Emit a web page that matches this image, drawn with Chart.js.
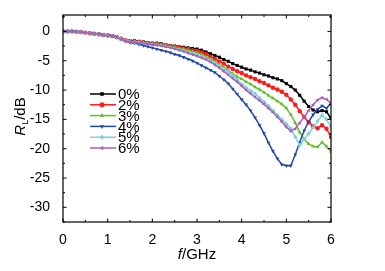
<!DOCTYPE html>
<html>
<head>
<meta charset="utf-8">
<script src="https://cdn.jsdelivr.net/npm/chart.js@4.4.0/dist/chart.umd.min.js"></script>
<style>
  html, body { margin: 0; padding: 0; background: #fff; }
  #wrap { width: 385px; height: 271px; position: relative; }
</style>
</head>
<body>
<div id="wrap"><canvas id="chart"></canvas></div>
<script>
// frequency points (GHz)
const freq = [0,0.1,0.2,0.3,0.4,0.5,0.6,0.7,0.8,0.9,1.0,1.1,1.2,1.3,1.4,1.5,1.6,1.7,1.8,1.9,2.0,
  2.1,2.2,2.3,2.4,2.5,2.6,2.7,2.8,2.9,3.0,3.1,3.2,3.3,3.4,3.5,3.6,3.7,3.8,3.9,4.0,
  4.1,4.2,4.3,4.4,4.5,4.6,4.7,4.8,4.9,5.0,5.1,5.2,5.3,5.4,5.5,5.6,5.7,5.8,5.9,6.0];

// reflection loss (dB) for each filler content
const rl0 = [0,0,0,-0.05,-0.1,-0.2,-0.3,-0.4,-0.45,-0.55,-0.65,-0.75,-0.9,-1.2,-1.5,-1.6,-1.6,-1.7,-1.8,-1.9,-2.0,
  -2.0,-2.1,-2.3,-2.4,-2.5,-2.6,-2.7,-2.8,-2.9,-3.0,-3.2,-3.5,-3.8,-4.1,-4.4,-4.8,-5.1,-5.5,-5.8,-6.1,
  -6.4,-6.6,-6.9,-7.1,-7.4,-7.6,-7.9,-8.1,-8.4,-8.9,-9.4,-10.0,-10.9,-11.9,-12.8,-13.4,-13.7,-13.5,-13.7,-14.8];
const rl2 = [0,0,0,-0.05,-0.1,-0.2,-0.3,-0.4,-0.5,-0.6,-0.7,-0.8,-0.95,-1.25,-1.55,-1.65,-1.7,-1.8,-1.9,-2.0,-2.1,
  -2.15,-2.25,-2.4,-2.5,-2.6,-2.7,-2.9,-3.0,-3.2,-3.35,-3.6,-3.9,-4.3,-4.7,-5.1,-5.5,-6.0,-6.4,-6.8,-7.1,
  -7.5,-7.8,-8.1,-8.5,-8.8,-9.2,-9.6,-9.9,-10.3,-10.8,-11.6,-12.5,-13.6,-14.6,-15.5,-16.2,-16.5,-16.0,-16.6,-18.0];
const rl3 = [0,0,0,-0.05,-0.1,-0.2,-0.3,-0.4,-0.5,-0.6,-0.7,-0.8,-0.95,-1.25,-1.55,-1.7,-1.75,-1.85,-1.95,-2.05,-2.15,
  -2.2,-2.3,-2.45,-2.55,-2.7,-2.9,-3.0,-3.2,-3.4,-3.6,-3.9,-4.3,-4.7,-5.1,-5.6,-6.1,-6.7,-7.2,-7.7,-8.1,
  -8.6,-9.0,-9.5,-9.9,-10.4,-10.9,-11.4,-11.9,-12.4,-13.1,-14.2,-15.6,-17.2,-18.4,-19.2,-19.6,-19.7,-18.9,-19.6,-20.5];
const rl4 = [0,0,0,-0.05,-0.1,-0.2,-0.3,-0.4,-0.5,-0.6,-0.75,-0.85,-1.05,-1.4,-1.7,-1.9,-2.0,-2.2,-2.4,-2.6,-2.8,
  -3.0,-3.2,-3.4,-3.6,-3.9,-4.1,-4.4,-4.7,-5.0,-5.4,-5.8,-6.2,-6.6,-7.0,-7.6,-8.2,-8.9,-9.8,-10.7,-11.6,
  -12.5,-13.5,-14.7,-16.0,-17.4,-19.0,-20.4,-21.7,-22.7,-22.9,-22.9,-21.0,-18.9,-16.9,-15.4,-14.2,-13.3,-12.7,-13.1,-12.2];
const rl5 = [0,0,0,-0.05,-0.1,-0.2,-0.3,-0.4,-0.5,-0.6,-0.7,-0.8,-0.95,-1.3,-1.6,-1.7,-1.8,-1.9,-2.0,-2.1,-2.2,
  -2.3,-2.4,-2.55,-2.7,-2.9,-3.1,-3.3,-3.6,-3.8,-4.0,-4.3,-4.6,-5.0,-5.4,-5.9,-6.4,-6.9,-7.5,-8.2,-9.0,
  -9.6,-10.1,-10.6,-11.3,-12.0,-12.7,-13.5,-14.3,-15.0,-15.8,-16.6,-18.0,-19.4,-18.4,-17.4,-16.4,-15.3,-14.3,-15.0,-16.3];
const rl6 = [0,0,0,-0.05,-0.1,-0.2,-0.3,-0.4,-0.5,-0.6,-0.7,-0.8,-0.95,-1.3,-1.6,-1.75,-1.85,-1.95,-2.05,-2.15,-2.25,
  -2.35,-2.45,-2.6,-2.75,-2.95,-3.2,-3.4,-3.7,-3.95,-4.2,-4.5,-4.8,-5.2,-5.7,-6.2,-6.8,-7.4,-8.0,-8.6,-9.3,
  -10.0,-10.6,-11.2,-11.8,-12.4,-13.1,-13.8,-14.6,-15.4,-16.3,-17.0,-16.6,-15.6,-14.6,-13.5,-12.5,-11.7,-11.3,-11.6,-12.2];

const seriesNames = ['0%', '2%', '3%', '4%', '5%', '6%'];
const xTicks = [0, 1, 2, 3, 4, 5, 6];
const yTicks = [-30, -25, -20, -15, -10, -5, 0];

const seriesData = [rl0, rl2, rl3, rl4, rl5, rl6];
const colors = ['#000000', '#ff1a1a', '#5fbf2a', '#2149a8', '#7fd0e0', '#a861b5'];
const shapes = ['rect', 'circle', 'triangle', 'triangle', 'rectRot', 'triangle'];
const rotations = [0, 0, 0, 180, 0, -90];

const FONT = "'Liberation Sans', Arial, sans-serif";

const datasets = seriesData.map(function(vals, i) {
    return {
        label: seriesNames[i],
        data: vals.map(function(v, j) { return { x: freq[j], y: v }; }),
        borderColor: colors[i],
        backgroundColor: colors[i],
        borderWidth: 1.5,
        pointStyle: shapes[i],
        pointRotation: rotations[i],
        pointRadius: 2.2,
        pointBorderWidth: 0,
        tension: 0,
        order: 5 - i
    };
});

// frame, inward ticks, legend and axis titles
const decorPlugin = {
    id: 'decor',
    afterDraw: function(chart) {
        const ctx = chart.ctx;
        const a = chart.chartArea;
        const xs = chart.scales.x, ys = chart.scales.y;
        ctx.save();
        ctx.strokeStyle = '#000';
        ctx.lineWidth = 1.2;
        ctx.strokeRect(a.left, a.top, a.right - a.left, a.bottom - a.top);

        ctx.lineWidth = 1;
        ctx.beginPath();
        for (let v = 0; v <= 6; v += 0.5) {
            const px = xs.getPixelForValue(v);
            const len = (v % 1 === 0) ? 3.5 : 2;
            ctx.moveTo(px, a.bottom); ctx.lineTo(px, a.bottom - len);
            ctx.moveTo(px, a.top); ctx.lineTo(px, a.top + len);
        }
        for (let v = -32.5; v <= 2.5; v += 2.5) {
            const py = ys.getPixelForValue(v);
            const len = (v % 5 === 0) ? 3.5 : 2;
            ctx.moveTo(a.left, py); ctx.lineTo(a.left + len, py);
            ctx.moveTo(a.right, py); ctx.lineTo(a.right - len, py);
        }
        ctx.stroke();

        // legend
        const lx = 90, ly = 94, step = 10.8;
        ctx.textBaseline = 'middle';
        ctx.font = '15px ' + FONT;
        datasets.forEach(function(ds, i) {
            const y = ly + i * step;
            ctx.strokeStyle = ds.borderColor;
            ctx.lineWidth = 1.5;
            ctx.beginPath();
            ctx.moveTo(lx, y); ctx.lineTo(lx + 26, y);
            ctx.stroke();
            ctx.fillStyle = ds.backgroundColor;
            Chart.helpers.drawPoint(ctx, { pointStyle: ds.pointStyle, rotation: ds.pointRotation, radius: 2.5, borderWidth: 0 }, lx + 12, y);
            ctx.fillStyle = '#000';
            ctx.textAlign = 'left';
            ctx.fillText(ds.label, lx + 28, y + 1);
        });

        // x title: f/GHz
        ctx.fillStyle = '#000';
        ctx.textBaseline = 'middle';
        ctx.textAlign = 'left';
        const t1 = 'f', t2 = '/GHz';
        ctx.font = 'italic 15px ' + FONT;
        const w1 = ctx.measureText(t1).width;
        ctx.font = '15px ' + FONT;
        const w2 = ctx.measureText(t2).width;
        let x0 = (a.left + a.right) / 2 - (w1 + w2) / 2;
        ctx.font = 'italic 15px ' + FONT;
        ctx.fillText(t1, x0, 255);
        ctx.font = '15px ' + FONT;
        ctx.fillText(t2, x0 + w1, 255);

        // y title: R_L/dB
        ctx.translate(21, (a.top + a.bottom) / 2 - 2);
        ctx.rotate(-Math.PI / 2);
        ctx.font = 'italic 15px ' + FONT;
        const wr = ctx.measureText('R').width;
        ctx.font = '9px ' + FONT;
        const wl = ctx.measureText('L').width;
        ctx.font = '15px ' + FONT;
        const wd = ctx.measureText('/dB').width;
        let s = -(wr + wl + wd) / 2;
        ctx.font = 'italic 15px ' + FONT;
        ctx.fillText('R', s, 0);
        ctx.font = '9px ' + FONT;
        ctx.fillText('L', s + wr, 5);
        ctx.font = '15px ' + FONT;
        ctx.fillText('/dB', s + wr + wl, 0);
        ctx.restore();
    }
};

new Chart(document.getElementById('chart'), {
    type: 'line',
    data: { datasets: datasets },
    plugins: [decorPlugin],
    options: {
        responsive: true,
        maintainAspectRatio: false,
        animation: false,
        layout: { padding: { top: 15, right: 54, left: 0, bottom: 0 } },
        plugins: {
            legend: { display: false },
            tooltip: { enabled: false }
        },
        scales: {
            x: {
                type: 'linear',
                min: 0,
                max: 6,
                afterBuildTicks: function(scale) { scale.ticks = xTicks.map(function(v) { return { value: v }; }); },
                afterFit: function(scale) { scale.height = 49; },
                grid: { display: false },
                border: { display: false },
                ticks: {
                    color: '#000',
                    padding: 2,
                    maxRotation: 0,
                    font: { size: 14, family: FONT }
                }
            },
            y: {
                type: 'linear',
                min: -32.5,
                max: 2.8,
                afterBuildTicks: function(scale) { scale.ticks = yTicks.map(function(v) { return { value: v }; }); },
                afterFit: function(scale) { scale.width = 63; },
                grid: { display: false },
                border: { display: false },
                ticks: {
                    color: '#000',
                    padding: 5,
                    font: { size: 14, family: FONT }
                }
            }
        }
    }
});
</script>
</body>
</html>
